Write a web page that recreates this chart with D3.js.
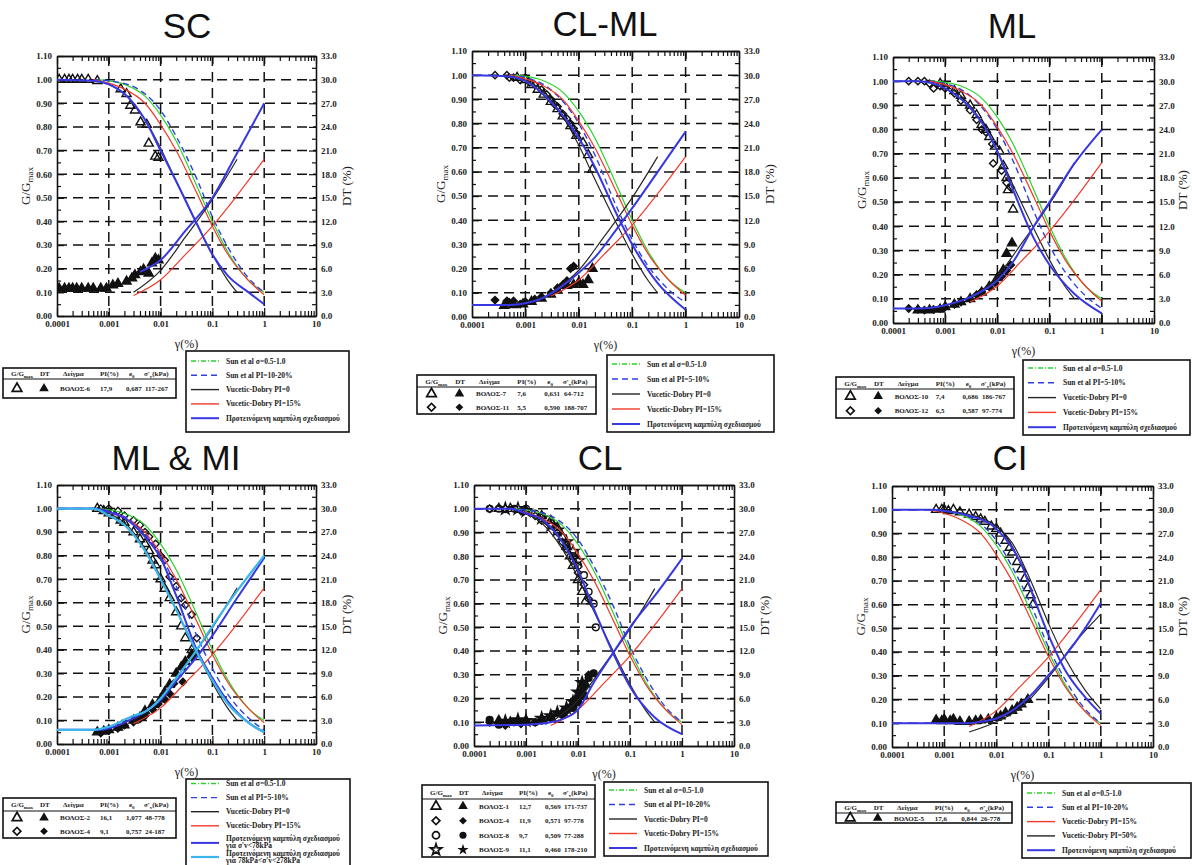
<!DOCTYPE html>
<html>
<head>
<meta charset="utf-8">
<script src="https://cdn.jsdelivr.net/npm/d3@7"></script>
<style>
body{margin:0;background:#fff;}
svg{display:block;}
.tick text{font-family:"Liberation Serif",serif;font-weight:bold;font-size:9px;fill:#222;}
.lbl{font-family:"Liberation Serif",serif;fill:#222;}
.title{font-family:"Liberation Sans",Arial,sans-serif;font-size:35px;fill:#111;}
.tab{font-family:"Liberation Serif",serif;font-weight:bold;font-size:7px;fill:#222;}
.leg{font-family:"Liberation Serif",serif;font-weight:bold;font-size:7.5px;fill:#222;}
</style>
</head>
<body>
<svg id="chart" width="1192" height="865"></svg>
<script>
// axis ticks
const ticksG = [0,0.1,0.2,0.3,0.4,0.5,0.6,0.7,0.8,0.9,1.0,1.1];
const minorG = [0.05,0.15,0.25,0.35,0.45,0.55,0.65,0.75,0.85,0.95,1.05];
const ticksDT = [0,3,6,9,12,15,18,21,24,27,30,33];
const decades = [0.0001,0.001,0.01,0.1,1,10];
const gridG = [0.1,0.2,0.3,0.4,0.5,0.6,0.7,0.8,0.9,1.0];
const gridGamma = [0.001,0.01,0.1,1];

// reference curves [γ(%), G/Gmax] or [γ(%), DT(%)]
const sunSigmaG = [[0.0005,1.0],[0.001,0.995],[0.002,0.98],[0.005,0.93],[0.01,0.85],[0.02,0.74],[0.05,0.55],[0.1,0.40],[0.2,0.27],[0.5,0.15],[1,0.10]];
const sunPI1020G = [[0.0005,1.0],[0.001,0.995],[0.003,0.97],[0.01,0.87],[0.02,0.76],[0.05,0.58],[0.1,0.42],[0.2,0.29],[0.5,0.16],[1,0.10]];
const sunPI510G = [[0.0005,1.0],[0.001,0.99],[0.003,0.94],[0.01,0.80],[0.02,0.67],[0.05,0.46],[0.1,0.32],[0.2,0.21],[0.5,0.11],[1,0.06]];
const vdPI0G = [[0.0005,1.0],[0.001,0.98],[0.002,0.94],[0.005,0.83],[0.01,0.71],[0.02,0.57],[0.05,0.39],[0.1,0.26],[0.2,0.15],[0.3,0.10]];
const vdPI0DT = [[0.003,3.0],[0.01,5.8],[0.03,10.0],[0.1,14.8],[0.3,19.9]];
const vdPI15G = [[0.0005,1.0],[0.001,0.985],[0.002,0.96],[0.005,0.90],[0.01,0.81],[0.02,0.70],[0.05,0.52],[0.1,0.38],[0.2,0.26],[0.5,0.15],[1,0.09]];
const vdPI15DT = [[0.003,2.6],[0.01,4.6],[0.03,7.8],[0.1,11.4],[0.3,15.3],[1,19.9]];
const vdPI50G = [[0.0006,1.0],[0.001,0.995],[0.003,0.98],[0.01,0.93],[0.02,0.86],[0.05,0.68],[0.1,0.52],[0.2,0.38],[0.5,0.24],[1,0.16]];
const vdPI50DT = [[0.003,1.9],[0.01,3.2],[0.03,5.0],[0.1,8.8],[0.3,13.0],[1,16.8]];

// proposed design curves
const scPropG = [[0.0001,1.0],[0.0005,0.995],[0.001,0.98],[0.002,0.94],[0.005,0.83],[0.01,0.70],[0.02,0.57],[0.05,0.39],[0.1,0.26],[0.2,0.17],[0.5,0.10],[1,0.05]];
const scPropDT = [[0.004,5.6],[0.01,7.1],[0.03,10.8],[0.1,15.0],[0.3,20.7],[1,27.0]];
const clmlPropG = [[0.0001,1.0],[0.0005,0.995],[0.001,0.975],[0.003,0.89],[0.01,0.74],[0.02,0.62],[0.05,0.43],[0.1,0.30],[0.3,0.14],[1,0.03]];
const clmlPropDT = [[0.0001,1.5],[0.0005,1.5],[0.001,1.7],[0.002,2.3],[0.005,3.9],[0.01,5.5],[0.02,7.4],[0.05,10.8],[0.1,13.5],[0.3,18.0],[1,23.0]];
const mlPropG = [[0.0001,1.0],[0.0003,1.0],[0.001,0.97],[0.003,0.89],[0.005,0.83],[0.01,0.71],[0.02,0.55],[0.05,0.35],[0.1,0.24],[0.3,0.12],[1,0.04]];
const mlPropDT = [[0.0001,1.8],[0.0003,1.8],[0.001,2.2],[0.003,3.2],[0.01,5.3],[0.02,7.6],[0.05,12.0],[0.1,15.0],[0.3,19.8],[1,24.0]];
const mlmiPropG1 = [[0.0001,1.0],[0.0005,1.0],[0.001,0.985],[0.002,0.96],[0.005,0.88],[0.01,0.79],[0.02,0.63],[0.05,0.40],[0.1,0.28],[0.2,0.18],[0.5,0.09],[1,0.05]];
const mlmiPropG2 = [[0.0001,1.0],[0.0005,1.0],[0.001,0.97],[0.002,0.93],[0.005,0.82],[0.01,0.70],[0.02,0.57],[0.05,0.39],[0.1,0.27],[0.2,0.17],[0.5,0.09],[1,0.05]];
const mlmiPropDT1 = [[0.0001,1.8],[0.0007,1.8],[0.001,2.0],[0.003,3.3],[0.01,5.6],[0.02,8.0],[0.05,11.1],[0.1,13.8],[0.3,18.6],[1,23.7]];
const mlmiPropDT2 = [[0.0001,1.8],[0.0005,1.8],[0.001,2.2],[0.003,3.6],[0.005,4.1],[0.01,5.8],[0.02,8.4],[0.05,12.0],[0.1,15.0],[0.3,19.5],[1,24.0]];
const clPropG = [[0.0001,1.0],[0.0005,1.0],[0.001,0.98],[0.002,0.955],[0.005,0.86],[0.01,0.74],[0.02,0.58],[0.05,0.38],[0.1,0.25],[0.3,0.12],[1,0.05]];
const clPropDT = [[0.0001,2.6],[0.001,2.7],[0.003,3.0],[0.005,3.4],[0.01,4.6],[0.02,8.0],[0.05,12.0],[0.1,15.0],[0.3,19.0],[1,23.7]];
const ciPropG = [[0.0001,1.0],[0.0006,1.0],[0.001,0.995],[0.003,0.975],[0.01,0.92],[0.02,0.84],[0.03,0.77],[0.05,0.64],[0.1,0.47],[0.2,0.33],[0.5,0.21],[1,0.14]];
const ciPropDT = [[0.0001,3.0],[0.003,3.0],[0.005,3.2],[0.01,3.6],[0.02,4.6],[0.05,6.8],[0.1,9.1],[0.2,11.4],[0.5,15.0],[1,18.2]];

// test results
const vol6G = [[0.00011,1.0],[0.00014,1.0],[0.00017,1.0],[0.0002,1.0],[0.00025,1.0],[0.0003,1.0],[0.0004,1.0],[0.0006,0.995],[0.0017,0.96],[0.0022,0.94],[0.0026,0.89],[0.0032,0.87],[0.0041,0.82],[0.0054,0.81],[0.0059,0.73],[0.0079,0.675],[0.0091,0.67]];
const vol6DT = [[0.00011,3.5],[0.00014,3.5],[0.00017,3.5],[0.0002,3.5],[0.00024,3.5],[0.0003,3.5],[0.0004,3.5],[0.0005,3.5],[0.0007,3.5],[0.0009,3.5],[0.0012,3.9],[0.0015,4.1],[0.0022,4.4],[0.0028,4.8],[0.0032,5.2],[0.0041,5.6],[0.0047,5.9],[0.0059,5.4],[0.0068,6.7],[0.0079,7.3],[0.0091,7.1]];
const vol7G = [[0.0007,0.99],[0.001,0.98],[0.0013,0.96],[0.0017,0.94],[0.0022,0.92],[0.003,0.89],[0.004,0.86],[0.005,0.83],[0.007,0.79],[0.009,0.75],[0.012,0.72],[0.015,0.67],[0.018,0.61]];
const vol7DT = [[0.0004,1.4],[0.0006,1.5],[0.0009,1.6],[0.0013,1.9],[0.002,2.3],[0.003,2.8],[0.004,3.3],[0.006,3.9],[0.008,4.0],[0.01,4.3],[0.012,4.0],[0.015,4.6],[0.018,6.0]];
const vol11G = [[0.00027,1.0],[0.00045,1.0],[0.0005,0.99],[0.0006,0.99],[0.0008,0.98],[0.001,0.99],[0.0012,0.97],[0.0015,0.96],[0.002,0.94],[0.0025,0.92],[0.003,0.90],[0.0035,0.88],[0.004,0.87],[0.005,0.84],[0.006,0.82],[0.007,0.80],[0.008,0.78],[0.009,0.76]];
const vol11DT = [[0.00027,2.1],[0.00045,2.0],[0.0005,1.8],[0.0006,2.0],[0.0008,1.6],[0.001,1.9],[0.0015,2.2],[0.002,2.5],[0.003,3.0],[0.004,3.6],[0.005,4.0],[0.006,4.5],[0.007,6.0],[0.008,6.3]];
const vol10G = [[0.0008,0.99],[0.001,0.98],[0.0015,0.96],[0.002,0.94],[0.003,0.90],[0.004,0.86],[0.005,0.82],[0.006,0.80],[0.007,0.77],[0.009,0.73],[0.011,0.71],[0.013,0.65],[0.015,0.60],[0.016,0.55],[0.02,0.47]];
const vol10DT = [[0.0003,1.6],[0.0005,1.6],[0.0008,1.7],[0.001,2.0],[0.0015,2.3],[0.002,2.6],[0.003,3.0],[0.005,3.8],[0.007,4.5],[0.01,5.6],[0.013,6.6],[0.015,8.6],[0.019,9.9]];
const vol12G = [[0.0002,1.0],[0.0003,1.0],[0.0004,1.0],[0.0005,0.99],[0.0006,0.97],[0.0008,0.98],[0.001,0.97],[0.0015,0.95],[0.002,0.92],[0.003,0.88],[0.004,0.84],[0.005,0.80],[0.006,0.79],[0.008,0.74],[0.0083,0.66],[0.012,0.63],[0.015,0.58],[0.018,0.56]];
const vol12DT = [[0.0002,1.8],[0.0003,1.7],[0.0004,1.6],[0.0006,1.7],[0.0008,1.8],[0.001,2.0],[0.0015,2.3],[0.002,2.6],[0.003,3.0],[0.004,3.5],[0.005,3.9],[0.007,4.5],[0.009,5.0],[0.012,5.8],[0.015,6.5],[0.018,7.2]];
const vol2G = [[0.0006,1.0],[0.0008,0.99],[0.001,0.98],[0.0013,0.97],[0.0017,0.95],[0.002,0.94],[0.003,0.90],[0.004,0.87],[0.005,0.85],[0.006,0.82],[0.007,0.78],[0.008,0.76],[0.01,0.70],[0.012,0.66],[0.015,0.62],[0.02,0.56],[0.025,0.50],[0.03,0.45],[0.04,0.40],[0.05,0.37]];
const vol2DT = [[0.0006,1.5],[0.0008,1.6],[0.001,1.8],[0.0015,2.1],[0.002,2.4],[0.003,3.0],[0.004,3.4],[0.005,4.2],[0.007,5.0],[0.01,5.7],[0.012,6.6],[0.015,7.6],[0.02,9.0],[0.025,9.8],[0.03,10.5],[0.04,11.4]];
const vol4mG = [[0.0007,1.0],[0.001,1.0],[0.0015,0.99],[0.002,0.97],[0.003,0.95],[0.004,0.93],[0.005,0.90],[0.006,0.88],[0.008,0.85],[0.01,0.80],[0.012,0.78],[0.015,0.71],[0.02,0.67],[0.025,0.62],[0.03,0.59],[0.04,0.55],[0.05,0.45]];
const vol4mDT = [[0.0007,1.4],[0.001,1.7],[0.0015,2.0],[0.002,2.4],[0.003,2.8],[0.004,3.2],[0.005,3.6],[0.007,4.4],[0.009,5.1],[0.012,5.7],[0.015,6.4],[0.018,7.7],[0.027,7.9],[0.029,10.3],[0.04,11.0],[0.05,11.7]];
const vol1G = [[0.0003,1.0],[0.0005,1.0],[0.001,0.99],[0.002,0.97],[0.003,0.95],[0.004,0.92],[0.005,0.88],[0.006,0.84],[0.007,0.80],[0.008,0.76],[0.01,0.70],[0.012,0.65],[0.014,0.61]];
const vol1DT = [[0.0003,3.2],[0.0005,3.0],[0.001,3.2],[0.002,3.4],[0.003,3.6],[0.005,4.2],[0.007,4.8],[0.01,5.8],[0.012,7.0],[0.014,7.8]];
const vol4G = [[0.0002,1.0],[0.0004,1.0],[0.0008,0.99],[0.0015,0.97],[0.002,0.95],[0.003,0.93],[0.004,0.90],[0.005,0.86],[0.006,0.83],[0.008,0.78],[0.01,0.73],[0.013,0.68],[0.016,0.62]];
const vol4DT = [[0.0002,3.0],[0.0004,2.6],[0.0008,2.8],[0.0015,3.0],[0.002,3.2],[0.003,3.5],[0.005,3.9],[0.006,4.4],[0.008,5.2],[0.01,6.2],[0.013,7.3],[0.016,9.0]];
const vol8G = [[0.0002,1.0],[0.0003,1.0],[0.0006,1.0],[0.001,1.0],[0.0015,0.98],[0.002,0.97],[0.003,0.94],[0.005,0.88],[0.006,0.85],[0.008,0.80],[0.01,0.76],[0.013,0.72],[0.016,0.65],[0.02,0.60],[0.022,0.50]];
const vol8DT = [[0.0002,3.3],[0.0003,2.7],[0.0006,3.0],[0.001,3.1],[0.0015,3.0],[0.002,3.3],[0.003,3.6],[0.005,4.0],[0.008,4.8],[0.01,5.5],[0.013,6.3],[0.016,8.6],[0.02,9.2]];
const vol9G = [[0.0004,1.0],[0.0007,1.0],[0.001,0.99],[0.002,0.96],[0.003,0.93],[0.004,0.91],[0.006,0.86],[0.008,0.82],[0.01,0.78]];
const vol9DT = [[0.0004,3.1],[0.0007,3.3],[0.001,3.2],[0.002,3.5],[0.003,3.8],[0.004,4.2],[0.006,4.8],[0.008,5.6],[0.01,6.8],[0.012,8.0]];
const vol5G = [[0.0007,1.0],[0.0009,1.0],[0.001,1.0],[0.0012,0.995],[0.0015,1.0],[0.002,0.99],[0.003,0.98],[0.004,0.97],[0.005,0.96],[0.006,0.95],[0.008,0.93],[0.01,0.92],[0.012,0.90],[0.015,0.87],[0.018,0.84],[0.02,0.82],[0.025,0.78],[0.03,0.75],[0.035,0.71],[0.04,0.67],[0.045,0.64],[0.05,0.60]];
const vol5DT = [[0.0007,3.4],[0.0009,3.3],[0.001,3.5],[0.0013,3.3],[0.0015,3.5],[0.002,3.2],[0.003,3.2],[0.004,3.3],[0.005,3.4],[0.007,3.5],[0.01,3.7],[0.012,3.9],[0.015,4.3],[0.02,4.6],[0.025,5.0],[0.03,5.4],[0.04,6.0]];

// legend tables: sample, PI(%), e0, σ'v(kPa)
const scSamples = [["ΒΟΛΟΣ-6","17,9","0,687","117-267"]];
const clmlSamples = [["ΒΟΛΟΣ-7","7,6","0,631","64-712"],["ΒΟΛΟΣ-11","5,5","0,590","188-707"]];
const mlSamples = [["ΒΟΛΟΣ-10","7,4","0,686","186-767"],["ΒΟΛΟΣ-12","6,5","0,587","97-774"]];
const mlmiSamples = [["ΒΟΛΟΣ-2","16,1","1,077","48-778"],["ΒΟΛΟΣ-4","9,1","0,757","24-187"]];
const clSamples = [["ΒΟΛΟΣ-1","12,7","0,569","171-737"],["ΒΟΛΟΣ-4","11,9","0,571","97-778"],["ΒΟΛΟΣ-8","9,7","0,509","77-288"],["ΒΟΛΟΣ-9","11,1","0,460","178-210"]];
const ciSamples = [["ΒΟΛΟΣ-5","17,6","0,844","26-778"]];

// curve legends
const proposed = "Προτεινόμενη καμπύλη σχεδιασμού";
const scLegend = ["Sun et al σ=0.5-1.0","Sun et al PI=10-20%","Vucetic-Dobry PI=0","Vucetic-Dobry PI=15%",proposed];
const clmlLegend = ["Sun et al σ=0.5-1.0","Sun et al PI=5-10%","Vucetic-Dobry PI=0","Vucetic-Dobry PI=15%",proposed];
const mlLegend = clmlLegend;
const mlmiLegend = ["Sun et al σ=0.5-1.0","Sun et al PI=5-10%","Vucetic-Dobry PI=0","Vucetic-Dobry PI=15%",[proposed,"για σ'v<78kPa"],[proposed,"για 78kPa<σ'v<278kPa"]];
const clLegend = scLegend;
const ciLegend = ["Sun et al σ=0.5-1.0","Sun et al PI=10-20%","Vucetic-Dobry PI=15%","Vucetic-Dobry PI=50%",proposed];

const styles = {
  green:{color:"#2bd42b",w:1.2,legendDash:"5,2,1,2"},
  dashed:{color:"#3040e0",w:1.4,dash:"6,4"},
  black:{color:"#262626",w:1.2},
  red:{color:"#f03a2a",w:1.2},
  blue:{color:"#3838e2",w:2},
  cyan:{color:"#3cb6ea",w:2.2}
};

const panels = [
  {title:"SC",tx:187,ty:38,box:[57,316,56,316],
   curves:[[sunSigmaG,"G","green"],[sunPI1020G,"G","dashed"],[vdPI0G,"G","black"],[vdPI15G,"G","red"],[vdPI0DT,"DT","black"],[vdPI15DT,"DT","red"],[scPropG,"G","blue"],[scPropDT,"DT","blue"]],
   points:[[vol6G,"G","tri",false],[vol6DT,"DT","tri",true]],
   table:{x:3,y:368,w:173,head:11,row:19,samples:scSamples,syms:["tri"]},
   legend:{x:186,y:351,w:163,h:81,first:10,step:14.3,labels:scLegend,st:["green","dashed","black","red","blue"]}},
  {title:"CL-ML",tx:605,ty:36,box:[472,739,51,317],
   curves:[[sunSigmaG,"G","green"],[sunPI510G,"G","dashed"],[vdPI0G,"G","black"],[vdPI15G,"G","red"],[vdPI0DT,"DT","black"],[vdPI15DT,"DT","red"],[clmlPropG,"G","blue"],[clmlPropDT,"DT","blue"]],
   points:[[vol7G,"G","tri",false],[vol11G,"G","dia",false],[vol7DT,"DT","tri",true],[vol11DT,"DT","dia",true]],
   table:{x:417,y:375,w:179,head:12,row:13.5,samples:clmlSamples,syms:["tri","dia"]},
   legend:{x:607,y:355,w:167,h:77,first:9,step:15,labels:clmlLegend,st:["green","dashed","black","red","blue"]}},
  {title:"ML",tx:1012,ty:38,box:[893,1154,57,323],
   curves:[[sunSigmaG,"G","green"],[sunPI510G,"G","dashed"],[vdPI0G,"G","black"],[vdPI15G,"G","red"],[vdPI0DT,"DT","black"],[vdPI15DT,"DT","red"],[mlPropG,"G","blue"],[mlPropDT,"DT","blue"]],
   points:[[vol10G,"G","tri",false],[vol12G,"G","dia",false],[vol10DT,"DT","tri",true],[vol12DT,"DT","dia",true]],
   table:{x:836,y:377,w:178,head:12,row:14.5,samples:mlSamples,syms:["tri","dia"]},
   legend:{x:1023,y:360,w:167,h:75,first:8,step:14.8,labels:mlLegend,st:["green","dashed","black","red","blue"]}},
  {title:"ML & MI",tx:176,ty:470,box:[57,316,485,744],
   curves:[[sunSigmaG,"G","green"],[sunPI510G,"G","dashed"],[vdPI0G,"G","black"],[vdPI15G,"G","red"],[vdPI0DT,"DT","black"],[vdPI15DT,"DT","red"],[mlmiPropG1,"G","blue"],[mlmiPropDT1,"DT","blue"],[mlmiPropG2,"G","cyan"],[mlmiPropDT2,"DT","cyan"]],
   points:[[vol2G,"G","tri",false],[vol4mG,"G","dia",false],[vol2DT,"DT","tri",true],[vol4mDT,"DT","dia",true]],
   table:{x:3,y:798,w:173,head:13,row:13.5,samples:mlmiSamples,syms:["tri","dia"]},
   legend:{x:186,y:779,w:164,h:95,first:4.5,step:14.1,labels:mlmiLegend,st:["green","dashed","black","red","blue","cyan"]}},
  {title:"CL",tx:600,ty:470,box:[474,734,485,746],
   curves:[[sunSigmaG,"G","green"],[sunPI1020G,"G","dashed"],[vdPI0G,"G","black"],[vdPI15G,"G","red"],[vdPI0DT,"DT","black"],[vdPI15DT,"DT","red"],[clPropG,"G","blue"],[clPropDT,"DT","blue"]],
   points:[[vol1G,"G","tri",false],[vol4G,"G","dia",false],[vol8G,"G","circ",false],[vol9G,"G","star",false],[vol1DT,"DT","tri",true],[vol4DT,"DT","dia",true],[vol8DT,"DT","circ",true],[vol9DT,"DT","star",true]],
   table:{x:422,y:785,w:173,head:14,row:14.5,samples:clSamples,syms:["tri","dia","circ","star"]},
   legend:{x:604,y:782,w:164,h:74,first:8,step:14.5,labels:clLegend,st:["green","dashed","black","red","blue"]}},
  {title:"CI",tx:1010,ty:470,box:[892,1153,486,747],
   curves:[[sunSigmaG,"G","green"],[sunPI1020G,"G","dashed"],[vdPI15G,"G","red"],[vdPI50G,"G","black"],[vdPI15DT,"DT","red"],[vdPI50DT,"DT","black"],[ciPropG,"G","blue"],[ciPropDT,"DT","blue"]],
   points:[[vol5G,"G","tri",false],[vol5DT,"DT","tri",true]],
   table:{x:836,y:802,w:176,head:11,row:10,samples:ciSamples,syms:["tri"]},
   legend:{x:1022,y:783,w:169,h:75,first:10,step:14.3,labels:ciLegend,st:["green","dashed","red","black","blue"]}}
];

const symTypes = {tri:d3.symbolTriangle, dia:d3.symbolSquare, circ:d3.symbolCircle, star:d3.symbolStar};
const minorGamma = decades.slice(0,-1).flatMap(d => [2,3,4,5,6,7,8,9].map(k => k*d));

const svg = d3.select("#chart");

function sym(type, size) {
  return d3.symbol().type(symTypes[type]).size(type==="dia" ? size*0.75 : size)();
}
function place(type, px, py) {
  return `translate(${px},${py})` + (type==="dia" ? " rotate(45)" : "");
}

panels.forEach((p,i) => {
  const [x0,x1,y0,y1] = p.box;
  const g = svg.append("g");
  const x = d3.scaleLog().domain([1e-4,10]).range([x0,x1]);
  const yG = d3.scaleLinear().domain([0,1.1]).range([y1,y0]);
  const yD = d3.scaleLinear().domain([0,33]).range([y1,y0]);

  g.append("text").attr("class","title").attr("x",p.tx).attr("y",p.ty).attr("text-anchor","middle").text(p.title);

  // dashed grid
  g.selectAll(".hg").data(gridG).join("line")
    .attr("x1",x0).attr("x2",x1).attr("y1",d=>yG(d)).attr("y2",d=>yG(d))
    .attr("stroke","#111").attr("stroke-width",1.5).attr("stroke-dasharray","10,6");
  g.selectAll(".vg").data(gridGamma).join("line")
    .attr("x1",d=>x(d)).attr("x2",d=>x(d)).attr("y1",y0).attr("y2",y1)
    .attr("stroke","#111").attr("stroke-width",1.5).attr("stroke-dasharray","10,6");

  // axes, ticks pointing inward
  const fmtG = d3.format(".2f"), fmtD = d3.format(".1f");
  g.append("g").attr("transform",`translate(${x0},0)`)
    .call(d3.axisLeft(yG).tickValues(ticksG).tickFormat(fmtG).tickSizeInner(-7).tickSizeOuter(0).tickPadding(5));
  g.append("g").attr("transform",`translate(${x0},0)`)
    .call(d3.axisLeft(yG).tickValues(minorG).tickFormat("").tickSizeInner(-4).tickSizeOuter(0));
  g.append("g").attr("transform",`translate(${x1},0)`)
    .call(d3.axisRight(yD).tickValues(ticksDT).tickFormat(fmtD).tickSizeInner(-7).tickSizeOuter(0).tickPadding(5));
  g.append("g").attr("transform",`translate(${x1},0)`)
    .call(d3.axisRight(yG).tickValues(minorG).tickFormat("").tickSizeInner(-4).tickSizeOuter(0));
  g.append("g").attr("transform",`translate(0,${y1})`)
    .call(d3.axisBottom(x).tickValues(decades).tickFormat(d=>String(d)).tickSizeInner(-8).tickSizeOuter(0).tickPadding(5));
  g.append("g").attr("transform",`translate(0,${y1})`)
    .call(d3.axisBottom(x).tickValues(minorGamma).tickFormat("").tickSizeInner(-5).tickSizeOuter(0));
  g.append("g").attr("transform",`translate(0,${y0})`)
    .call(d3.axisTop(x).tickValues(decades).tickFormat("").tickSizeInner(-8).tickSizeOuter(0));
  g.append("g").attr("transform",`translate(0,${y0})`)
    .call(d3.axisTop(x).tickValues(minorGamma).tickFormat("").tickSizeInner(-5).tickSizeOuter(0));
  g.selectAll(".domain").attr("stroke","#111").attr("stroke-width",1.3);
  g.selectAll(".tick line").attr("stroke","#111").attr("stroke-width",1.2);

  // axis titles
  const gl = g.append("text").attr("class","lbl").attr("font-size",13)
    .attr("transform",`translate(${x0-27},${(y0+y1)/2}) rotate(-90)`).attr("text-anchor","middle");
  gl.append("tspan").text("G/G");
  gl.append("tspan").attr("font-size",9).attr("dy",3).text("max");
  g.append("text").attr("class","lbl").attr("font-size",13)
    .attr("transform",`translate(${Math.min(x1+35,1187)},${(y0+y1)/2}) rotate(-90)`).attr("text-anchor","middle").text("DT (%)");
  g.append("text").attr("class","lbl").attr("font-size",12)
    .attr("x",(x0+x1)/2).attr("y",y1+32).attr("text-anchor","middle").text("γ(%)");

  // data clip
  const clipId = "clip"+i;
  g.append("clipPath").attr("id",clipId).append("rect").attr("x",x0).attr("y",y0).attr("width",x1-x0).attr("height",y1-y0);
  const plot = g.append("g").attr("clip-path",`url(#${clipId})`);

  // test points
  p.points.forEach(([data,axis,type,filled]) => {
    const yy = axis==="G" ? yG : yD;
    plot.selectAll(null).data(data).join("path")
      .attr("d",sym(type, type==="star"?44:36))
      .attr("transform",d=>place(type, x(d[0]), yy(d[1])))
      .attr("fill",filled?"#111":"none").attr("stroke","#111").attr("stroke-width",1.4);
  });

  // curves
  p.curves.forEach(([data,axis,st]) => {
    const s = styles[st];
    const yy = axis==="G" ? yG : yD;
    const line = d3.line().x(d=>x(d[0])).y(d=>yy(d[1])).curve(d3.curveMonotoneX);
    plot.append("path").datum(data).attr("d",line)
      .attr("fill","none").attr("stroke",s.color).attr("stroke-width",s.w)
      .attr("stroke-dasharray",s.dash||null);
  });

  // samples table
  const t = p.table, sc = t.w/173;
  const th = t.head + t.row*t.samples.length;
  const tg = g.append("g");
  tg.append("rect").attr("x",t.x).attr("y",t.y).attr("width",t.w).attr("height",th)
    .attr("fill","#fff").attr("stroke","#111").attr("stroke-width",1.6);
  tg.append("line").attr("x1",t.x).attr("x2",t.x+t.w).attr("y1",t.y+t.head).attr("y2",t.y+t.head)
    .attr("stroke","#111").attr("stroke-width",1.2);
  const hy = t.y + t.head/2 + 2.5;
  const h1 = tg.append("text").attr("class","tab").attr("x",t.x+8*sc).attr("y",hy);
  h1.append("tspan").text("G/G"); h1.append("tspan").attr("font-size",5).attr("dy",2).text("max");
  tg.append("text").attr("class","tab").attr("x",t.x+37*sc).attr("y",hy).text("DT");
  tg.append("text").attr("class","tab").attr("x",t.x+60*sc).attr("y",hy).text("Δείγμα");
  tg.append("text").attr("class","tab").attr("x",t.x+97*sc).attr("y",hy).text("PI(%)");
  const h5 = tg.append("text").attr("class","tab").attr("x",t.x+126*sc).attr("y",hy);
  h5.append("tspan").text("e"); h5.append("tspan").attr("font-size",5).attr("dy",2).text("0");
  const h6 = tg.append("text").attr("class","tab").attr("x",t.x+141*sc).attr("y",hy);
  h6.append("tspan").text("σ'"); h6.append("tspan").attr("font-size",5).attr("dy",2).text("v");
  h6.append("tspan").attr("dy",-2).text("(kPa)");
  t.samples.forEach((r,k) => {
    const ry = t.y + t.head + t.row*(k+0.5);
    const type = t.syms[k];
    tg.append("path").attr("d",sym(type,40)).attr("transform",place(type,t.x+14*sc,ry))
      .attr("fill","none").attr("stroke","#111").attr("stroke-width",1.7);
    tg.append("path").attr("d",sym(type,40)).attr("transform",place(type,t.x+41*sc,ry))
      .attr("fill","#111");
    [57,97,123,142].forEach((cx,j) => {
      tg.append("text").attr("class","tab").attr("x",t.x+cx*sc).attr("y",ry+2.5).text(r[j]);
    });
  });

  // curves legend
  const L = p.legend;
  const lg = g.append("g");
  lg.append("rect").attr("x",L.x).attr("y",L.y).attr("width",L.w).attr("height",L.h)
    .attr("fill","#fff").attr("stroke","#111").attr("stroke-width",1.6);
  L.labels.forEach((lab,k) => {
    const s = styles[L.st[k]];
    const ly = L.y + L.first + L.step*k + (Array.isArray(lab) ? 3 : 0);
    lg.append("line").attr("x1",L.x+5).attr("x2",L.x+33).attr("y1",ly).attr("y2",ly)
      .attr("stroke",s.color).attr("stroke-width",Math.max(s.w,1.4))
      .attr("stroke-dasharray",s.legendDash||s.dash||null);
    if (Array.isArray(lab)) {
      lab.forEach((part,j) => {
        lg.append("text").attr("class","leg").attr("font-size",6)
          .attr("x",L.x+40).attr("y",ly-1.5+j*7).text(part);
      });
    } else {
      lg.append("text").attr("class","leg").attr("x",L.x+40).attr("y",ly+2.5).text(lab);
    }
  });
});
</script>
</body>
</html>
